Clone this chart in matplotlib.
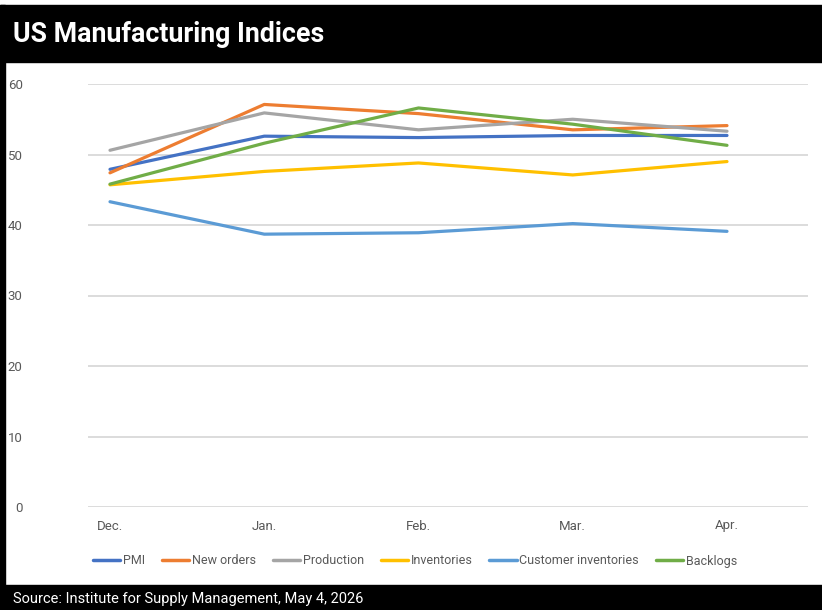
import matplotlib
matplotlib.use("Agg")
import matplotlib.pyplot as plt
from matplotlib.patches import Rectangle

months = ["Dec.", "Jan.", "Feb.", "Mar.", "Apr."]
pmi = [47.9, 52.6, 52.4, 52.7, 52.7]
new_orders = [47.4, 57.1, 55.8, 53.5, 54.1]
production = [50.6, 55.9, 53.5, 55.0, 53.3]
inventories = [45.7, 47.6, 48.8, 47.1, 49.0]
customer_inv = [43.3, 38.7, 38.9, 40.2, 39.1]
backlogs = [45.8, 51.6, 56.6, 54.3, 51.3]
yticks = [0, 10, 20, 30, 40, 50, 60]

series = [
    ("PMI", pmi, "#4472C4"),
    ("New orders", new_orders, "#ED7D31"),
    ("Production", production, "#A5A5A5"),
    ("Inventories", inventories, "#FFC000"),
    ("Customer inventories", customer_inv, "#5B9BD5"),
    ("Backlogs", backlogs, "#70AD47"),
]

plt.rcParams['font.family'] = ['Roboto', 'DejaVu Sans']

W, H = 822, 610
fig = plt.figure(figsize=(W/100, H/100), dpi=100)

def fx(px): return px / W
def fy(py): return 1 - py / H

fig.patches.append(Rectangle((0, fy(62)), 1, fy(5) - fy(62), transform=fig.transFigure, color="black", zorder=0))
fig.patches.append(Rectangle((0, 0), 1, fy(585), transform=fig.transFigure, color="black", zorder=0))
fig.patches.append(Rectangle((0, 0), fx(5), fy(5), transform=fig.transFigure, color="black", zorder=0))

fig.text(fx(13), fy(34), "US Manufacturing Indices", color="white", fontsize=19.3,
         fontweight="bold", va="center", ha="left")
fig.text(fx(13), fy(599), "Source: Institute for Supply Management, May 4, 2026", color="white",
         fontsize=10.5, va="center", ha="left")

ax = fig.add_axes([fx(88), fy(507), fx(808) - fx(88), fy(84) - fy(507)])
x = list(range(len(months)))
for name, vals, col in series:
    ax.plot(x, vals, color=col, lw=2.3, label=name, solid_capstyle="round", zorder=3)

ax.set_ylim(0, 60)
ax.set_xlim(-22/154.25, 4 + 81/154.25)
ax.set_yticks(yticks)
ax.set_xticks(x)
ax.set_xticklabels(months)
ax.grid(axis="y", color="#D9D9D9", lw=1.3, zorder=0)
ax.set_axisbelow(True)
for s in ax.spines.values():
    s.set_visible(False)
ax.tick_params(axis="both", length=0, colors="#595959", labelsize=9.5)
ax.tick_params(axis="y", pad=47)
ax.tick_params(axis="x", pad=9)

leg = fig.legend(loc="center", bbox_to_anchor=(fx(415), fy(561)), ncol=6, frameon=False,
                 fontsize=9, handlelength=2.2, columnspacing=1.35, handletextpad=0.2,
                 labelcolor="#595959")
for l in leg.get_lines():
    l.set_linewidth(2.5)

fig.savefig("out.png", dpi=100)
